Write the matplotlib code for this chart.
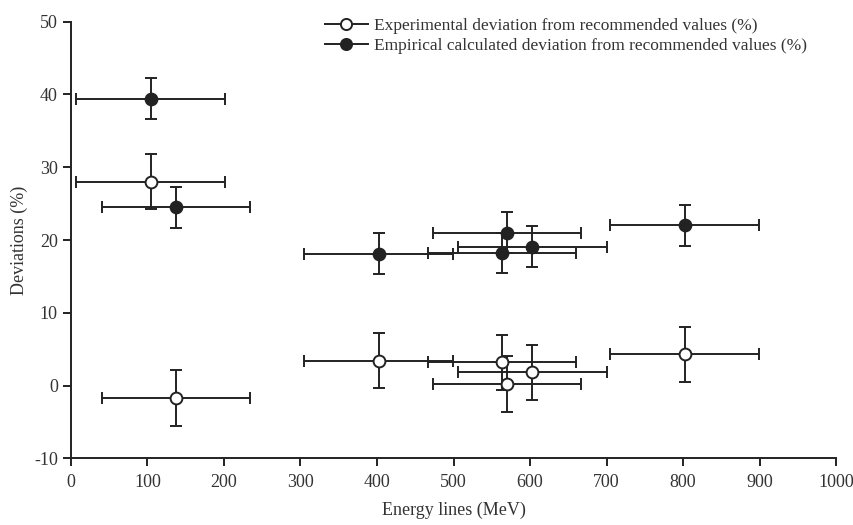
import matplotlib
matplotlib.use("Agg")
import matplotlib.pyplot as plt
from matplotlib.lines import Line2D

plt.rcParams['font.family'] = ['Liberation Serif', 'DejaVu Serif']
plt.rcParams['axes.unicode_minus'] = False

energy = [104, 137, 402, 563, 570, 603, 802]
energy_err = [97, 97, 97, 97, 97, 97, 97]
exp_dev = [28.0, -1.7, 3.4, 3.2, 0.2, 1.8, 4.3]
exp_err = [3.8, 3.8, 3.8, 3.8, 3.8, 3.8, 3.8]
emp_dev = [39.4, 24.5, 18.1, 18.2, 21.0, 19.1, 22.0]
emp_err = [2.8, 2.8, 2.8, 2.8, 2.8, 2.8, 2.8]
labels = ["Experimental deviation from recommended values (%)",
          "Empirical calculated deviation from recommended values (%)"]
xticks = [0, 100, 200, 300, 400, 500, 600, 700, 800, 900, 1000]
yticks = [-10, 0, 10, 20, 30, 40, 50]

col = '#222222'
fig = plt.figure(figsize=(8.54, 5.25), dpi=100)
ax = fig.add_axes([0.0831, 0.127, 0.979 - 0.0831, 0.9587 - 0.127])

ax.errorbar(energy, exp_dev, xerr=energy_err, yerr=exp_err, fmt='o', color=col,
            mfc='white', mec=col, mew=1.4, ms=8.5, elinewidth=1.4, capsize=4.5,
            capthick=1.4, zorder=3)
ax.errorbar(energy, emp_dev, xerr=energy_err, yerr=emp_err, fmt='o', color=col,
            mfc=col, mec=col, mew=1.4, ms=8.5, elinewidth=1.4, capsize=4.5,
            capthick=1.4, zorder=3)

ax.set_xlim(0, 1000)
ax.set_ylim(-10, 50)
ax.set_xticks(xticks)
ax.set_yticks(yticks)
ax.spines['top'].set_visible(False)
ax.spines['right'].set_visible(False)
for s in ['left', 'bottom']:
    ax.spines[s].set_linewidth(1.4)
    ax.spines[s].set_color(col)
ax.tick_params(direction='out', length=6, width=1.4, colors=col, labelsize=13,
               labelcolor='#333333')
ax.tick_params(axis='x', pad=5)
ax.set_xlabel("Energy lines (MeV)", fontsize=13, color='#333333', labelpad=8)
ax.set_ylabel("Deviations (%)", fontsize=13, color='#333333', labelpad=4)

handles = [Line2D([], [], color=col, lw=1.4, marker='o', ms=8, mfc='white', mec=col, mew=1.4),
           Line2D([], [], color=col, lw=1.4, marker='o', ms=8, mfc=col, mec=col, mew=1.4)]
fig.legend(handles, labels, loc='upper left', bbox_to_anchor=(0.372, 0.979),
           frameon=False, fontsize=12.5, handlelength=2.5, handletextpad=0.35,
           labelspacing=0.2, labelcolor='#333333', borderaxespad=0)

fig.savefig("out.png", dpi=100)
